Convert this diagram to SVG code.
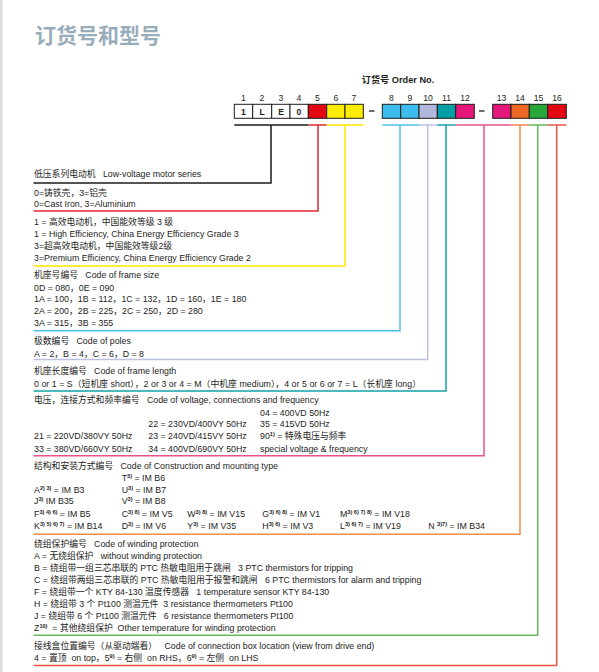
<svg xmlns="http://www.w3.org/2000/svg" width="599" height="672" viewBox="0 0 599 672">
<style>
.t{font-family:"Liberation Sans","Noto Sans CJK SC",sans-serif;font-size:8.8px;fill:#1d1d1b}
.num{font-family:"Liberation Sans","Noto Sans CJK SC",sans-serif;font-size:8.6px;fill:#1d1d1b;text-anchor:middle}
.bx{stroke:#1d1d1b;stroke-width:1}
.lt{font-family:"Liberation Sans",sans-serif;font-size:8.6px;font-weight:bold;fill:#1d1d1b;text-anchor:middle}
.sup{font-size:5.6px;font-weight:bold}
.c{fill:none;stroke-width:1.5}
</style>
<rect x="0" y="0" width="599" height="672" fill="#ffffff"/>
<rect x="0" y="0" width="2.5" height="672" fill="#dcdcdc"/>
<text x="35" y="43" font-family="'Noto Sans CJK SC',sans-serif" font-size="21" font-weight="bold" fill="#98acbb">订货号和型号</text>

<g id="header">
<text x="398" y="82.5" text-anchor="middle" font-family="'Liberation Sans','Noto Sans CJK SC',sans-serif" font-size="9.2" font-weight="bold" fill="#1d1d1b">订货号 Order No.</text>
<g id="digits">
<text class="num" x="243.5" y="101">1</text>
<text class="num" x="262" y="101">2</text>
<text class="num" x="281" y="101">3</text>
<text class="num" x="299" y="101">4</text>
<text class="num" x="317.5" y="101">5</text>
<text class="num" x="336" y="101">6</text>
<text class="num" x="354" y="101">7</text>
<text class="num" x="391.5" y="101">8</text>
<text class="num" x="410" y="101">9</text>
<text class="num" x="428" y="101">10</text>
<text class="num" x="446.5" y="101">11</text>
<text class="num" x="465" y="101">12</text>
<text class="num" x="501.5" y="101">13</text>
<text class="num" x="520" y="101">14</text>
<text class="num" x="538.5" y="101">15</text>
<text class="num" x="557" y="101">16</text>
</g>
<g id="boxes">
<rect class="bx" x="234.3" y="104.3" width="18.4" height="14" fill="#ffffff"/>
<rect class="bx" x="252.7" y="104.3" width="19" height="14" fill="#ffffff"/>
<rect class="bx" x="271.7" y="104.3" width="18.3" height="14" fill="#ffffff"/>
<rect class="bx" x="290" y="104.3" width="18.3" height="14" fill="#ffffff"/>
<rect class="bx" x="308.3" y="104.3" width="18.4" height="14" fill="#e30613"/>
<rect class="bx" x="326.7" y="104.3" width="18.3" height="14" fill="#ffed00"/>
<rect class="bx" x="345" y="104.3" width="18.3" height="14" fill="#ffed00"/>
<rect class="bx" x="382.3" y="104.3" width="18.4" height="14" fill="#3bbced"/>
<rect class="bx" x="400.7" y="104.3" width="18.3" height="14" fill="#3bbced"/>
<rect class="bx" x="419" y="104.3" width="18.3" height="14" fill="#b2b8dd"/>
<rect class="bx" x="437.3" y="104.3" width="18.4" height="14" fill="#009ea6"/>
<rect class="bx" x="455.7" y="104.3" width="18.6" height="14" fill="#e6177b"/>
<rect class="bx" x="492.7" y="104.3" width="18.3" height="14" fill="#e6177b"/>
<rect class="bx" x="511" y="104.3" width="18.3" height="14" fill="#ee6a24"/>
<rect class="bx" x="529.3" y="104.3" width="18.4" height="14" fill="#27a737"/>
<rect class="bx" x="547.7" y="104.3" width="18.6" height="14" fill="#e30613"/>
<text class="lt" x="243.5" y="114.5">1</text>
<text class="lt" x="262" y="114.5">L</text>
<text class="lt" x="281" y="114.5">E</text>
<text class="lt" x="299" y="114.5">0</text>
<line x1="369" y1="111" x2="374.5" y2="111" stroke="#1d1d1b" stroke-width="1.3"/>
<line x1="479" y1="111" x2="484.5" y2="111" stroke="#1d1d1b" stroke-width="1.3"/>
</g>
</g>

<g id="connectors">
<path class="c" stroke="#1d1d1b" stroke-width="1.8" d="M234.3,125 H308.3 M271,125 V183 H33.5"/>
<path class="c" stroke="#e52330" d="M308.3,125 H326.7 M318,125 V211 H33.5"/>
<path class="c" stroke="#ffe600" d="M326.7,125 H363.3 M345,125 V266 H33.5"/>
<path class="c" stroke="#4cc1ef" d="M382.3,125 H419 M400,125 V330.7 H33.5"/>
<path class="c" stroke="#bcc1e2" d="M419,125 H437.3 M427.7,125 V359.5 H33.5"/>
<path class="c" stroke="#13a3ab" d="M437.3,125 H455.7 M446,125 V391 H33.5"/>
<path class="c" stroke="#e8528a" d="M455.7,125 H511 M484,125 V455.7 H33.5"/>
<path class="c" stroke="#f28a50" d="M511,125 H529.3 M520,125 V534.2 H33.5"/>
<path class="c" stroke="#66bb5c" d="M529.3,125 H547.7 M537.7,125 V635.2 H33.5"/>
<path class="c" stroke="#e8533f" d="M547.7,125 H566.3 M556.7,125 V665.5 H33.5"/>
</g>

<g id="series">
<text class="t" x="34" y="177">低压系列电动机&#160;&#160; Low-voltage motor series</text>
</g>
<g id="housing">
<text class="t" x="34" y="195.5">0=铸铁壳，3=铝壳</text>
<text class="t" x="34" y="207">0=Cast Iron, 3=Aluminium</text>
</g>
<g id="efficiency">
<text class="t" x="34" y="225">1 = 高效电动机，中国能效等级 3 级</text>
<text class="t" x="34" y="237">1 = High Efficiency, China Energy Efficiency Grade 3</text>
<text class="t" x="34" y="249">3=超高效电动机，中国能效等级2级</text>
<text class="t" x="34" y="261">3=Premium Efficiency, China Energy Efficiency Grade 2</text>
</g>
<g id="frame-size">
<text class="t" x="34" y="278">机座号编号&#160;&#160; Code of frame size</text>
<text class="t" x="34" y="290.5">0D = 080，0E = 090</text>
<text class="t" x="34" y="302">1A = 100，1B = 112，1C = 132，1D = 160，1E = 180</text>
<text class="t" x="34" y="314">2A = 200，2B = 225，2C = 250，2D = 280</text>
<text class="t" x="34" y="326">3A = 315，3B = 355</text>
</g>
<g id="poles">
<text class="t" x="34" y="344">极数编号&#160;&#160; Code of poles</text>
<text class="t" x="34" y="356.5">A = 2，B = 4，C = 6，D = 8</text>
</g>
<g id="frame-length">
<text class="t" x="34" y="374">机座长度编号&#160;&#160; Code of frame length</text>
<text class="t" x="34" y="386.5" textLength="387" lengthAdjust="spacing">0 or 1 = S（短机座 short），2 or 3 or 4 = M（中机座 medium），4 or 5 or 6 or 7 = L（长机座 long）</text>
</g>
<g id="voltage">
<text class="t" x="34" y="403">电压，连接方式和频率编号&#160;&#160; Code of voltage, connections and frequency</text>
<text class="t" x="260" y="415.5">04 = 400VD 50Hz</text>
<text class="t" x="148.3" y="427">22 = 230VD/400VY 50Hz</text>
<text class="t" x="260" y="427">35 = 415VD 50Hz</text>
<text class="t" x="34" y="439">21 = 220VD/380VY 50Hz</text>
<text class="t" x="148.3" y="439">23 = 240VD/415VY 50Hz</text>
<text class="t" x="260" y="439">90<tspan class="sup" dy="-3">1)</tspan><tspan dy="3"> = 特殊电压与频率</tspan></text>
<text class="t" x="34" y="452">33 = 380VD/660VY 50Hz</text>
<text class="t" x="148.3" y="452">34 = 400VD/690VY 50Hz</text>
<text class="t" x="260" y="452">special voltage &amp; frequency</text>
</g>
<g id="mounting">
<text class="t" x="34" y="469">结构和安装方式编号&#160;&#160; Code of Construction and mounting type</text>
<text class="t" x="121.7" y="480.5">T<tspan class="sup" dy="-3">3)</tspan><tspan dy="3"> = IM B6</tspan></text>
<text class="t" x="34" y="492.5">A<tspan class="sup" dy="-3">2) 3)</tspan><tspan dy="3"> = IM B3</tspan></text>
<text class="t" x="121.7" y="492.5">U<tspan class="sup" dy="-3">3)</tspan><tspan dy="3"> = IM B7</tspan></text>
<text class="t" x="34" y="504">J<tspan class="sup" dy="-3">3)</tspan><tspan dy="3"> IM B35</tspan></text>
<text class="t" x="121.7" y="504">V<tspan class="sup" dy="-3">3)</tspan><tspan dy="3"> = IM B8</tspan></text>
<text class="t" x="34" y="517">F<tspan class="sup" dy="-3">3) 4) 6)</tspan><tspan dy="3"> = IM B5</tspan></text>
<text class="t" x="121.7" y="517">C<tspan class="sup" dy="-3">3) 8)</tspan><tspan dy="3"> = IM V5</tspan></text>
<text class="t" x="187.3" y="517">W<tspan class="sup" dy="-3">3) 8)</tspan><tspan dy="3"> = IM V15</tspan></text>
<text class="t" x="262.3" y="517">G<tspan class="sup" dy="-3">3) 6) 8)</tspan><tspan dy="3"> = IM V1</tspan></text>
<text class="t" x="340" y="517">M<tspan class="sup" dy="-3">3) 6) 7) 8)</tspan><tspan dy="3"> = IM V18</tspan></text>
<text class="t" x="34" y="529">K<tspan class="sup" dy="-3">3) 5) 6) 7)</tspan><tspan dy="3"> = IM B14</tspan></text>
<text class="t" x="121.7" y="529">D<tspan class="sup" dy="-3">3)</tspan><tspan dy="3"> = IM V6</tspan></text>
<text class="t" x="187.3" y="529">Y<tspan class="sup" dy="-3">3)</tspan><tspan dy="3"> = IM V35</tspan></text>
<text class="t" x="262.3" y="529">H<tspan class="sup" dy="-3">3) 6)</tspan><tspan dy="3"> = IM V3</tspan></text>
<text class="t" x="340" y="529">L<tspan class="sup" dy="-3">3) 6) 7)</tspan><tspan dy="3"> = IM V19</tspan></text>
<text class="t" x="428.3" y="529">N <tspan class="sup" dy="-3">3)7)</tspan><tspan dy="3"> = IM B34</tspan></text>
</g>
<g id="winding">
<text class="t" x="34" y="547">绕组保护编号&#160;&#160; Code of winding protection</text>
<text class="t" x="34" y="559">A = 无绕组保护&#160;&#160; without winding protection</text>
<text class="t" x="34" y="571">B = 绕组带一组三芯串联的 PTC 热敏电阻用于跳闸&#160;&#160; 3 PTC thermistors for tripping</text>
<text class="t" x="34" y="583">C = 绕组带两组三芯串联的 PTC 热敏电阻用于报警和跳闸&#160;&#160; 6 PTC thermistors for alarm and tripping</text>
<text class="t" x="34" y="595">F = 绕组带一个 KTY 84-130 温度传感器&#160;&#160; 1 temperature sensor KTY 84-130</text>
<text class="t" x="34" y="607">H = 绕组带 3 个 Pt100 测温元件&#160; 3 resistance thermometers Pt100</text>
<text class="t" x="34" y="619">J = 绕组带 6 个 Pt100 测温元件&#160;&#160; 6 resistance thermometers Pt100</text>
<text class="t" x="34" y="631">Z<tspan class="sup" dy="-3">10)</tspan><tspan dy="3">&#160; = 其他绕组保护&#160; Other temperature for winding protection</tspan></text>
</g>
<g id="box-location">
<text class="t" x="34" y="649">接线盒位置编号（从驱动端看）&#160;&#160; Code of connection box location (view from drive end)</text>
<text class="t" x="34" y="661">4 = 置顶&#160; on top，5<tspan class="sup" dy="-3">9)</tspan><tspan dy="3"> = 右侧&#160; on RHS，6</tspan><tspan class="sup" dy="-3">9)</tspan><tspan dy="3"> = 左侧&#160; on LHS</tspan></text>
</g>
</svg>
